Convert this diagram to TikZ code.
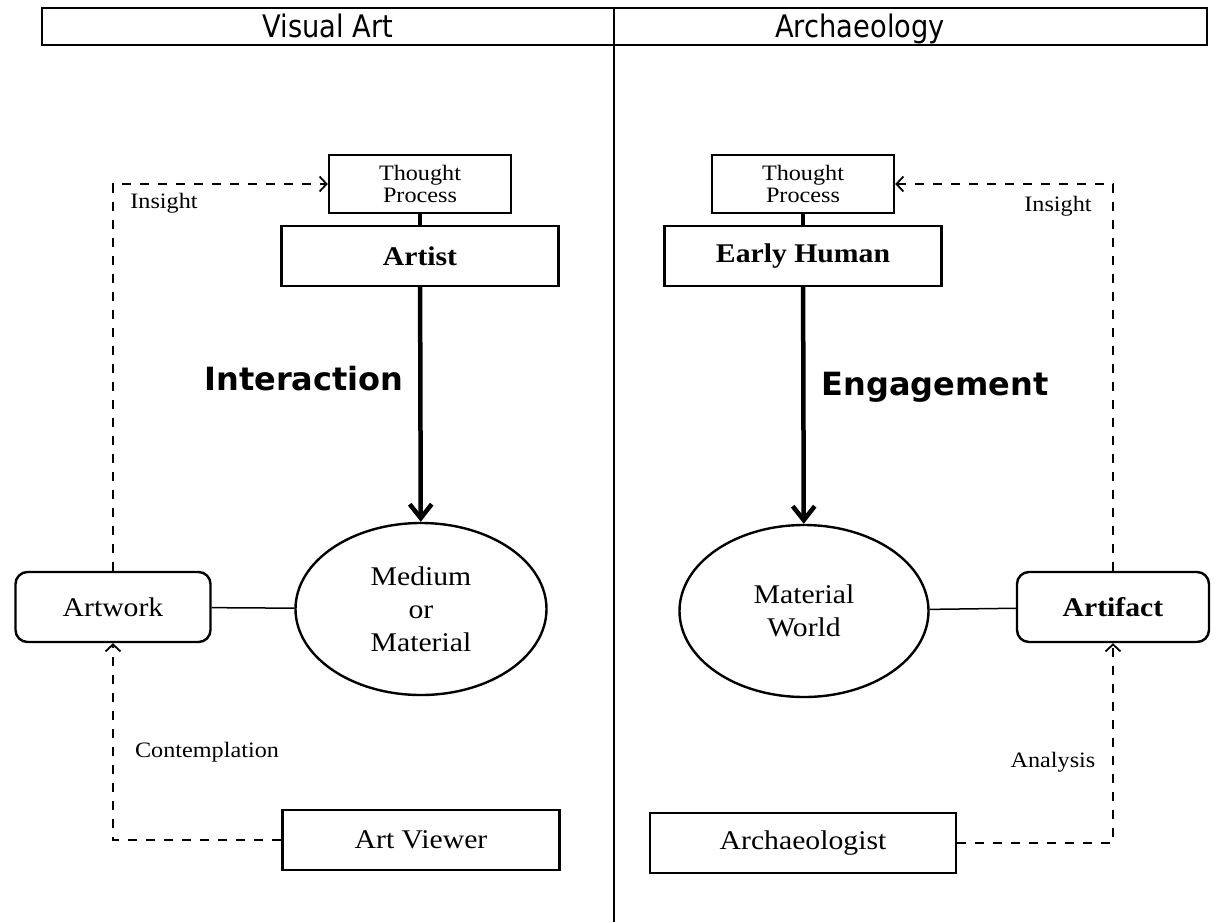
\documentclass[tikz,border=0pt]{standalone}
\usepackage{fontspec}
\setmainfont[FakeStretch=1.1]{Liberation Serif}
\newfontfamily\headfont[FakeStretch=0.88]{DejaVu Sans}
\newfontfamily\verbfont{DejaVu Sans}
\usetikzlibrary{shapes.geometric,arrows.meta}
\tikzset{
  rolebox/.style={draw, line width=2.4pt, minimum width=277pt, minimum height=60pt, inner sep=0pt, font=\fontsize{27}{30}\selectfont},
  thoughtbox/.style={draw, line width=2.4pt, minimum width=182pt, minimum height=58pt, inner sep=0pt, align=center, font=\fontsize{22}{22}\selectfont},
  thingbox/.style={draw, rounded corners=12pt, line width=2.4pt, minimum width=195pt, minimum height=70pt, inner sep=0pt, font=\fontsize{27}{30}\selectfont},
  blob/.style={draw, ellipse, line width=2.4pt, minimum width=251pt, minimum height=172pt, inner sep=0pt, align=center, font=\fontsize{27}{33}\selectfont},
  heading/.style={anchor=base, font=\headfont\fontsize{31}{32}\selectfont},
  verb/.style={font=\verbfont\bfseries\fontsize{32}{36}\selectfont},
  note/.style={font=\fontsize{22}{26}\selectfont},
  act/.style={line width=4.5pt, -{Straight Barb[length=14pt,width=22pt]}},
  link/.style={line width=1.5pt},
  loop/.style={line width=1.8pt, dash pattern=on 9pt off 9pt, -{Straight Barb[length=7pt,width=15pt]}}
}
\begin{document}
\begin{tikzpicture}[x=1pt,y=-1pt]
\useasboundingbox (0,0) rectangle (1216,922);
% heading
\draw[line width=2.6pt] (42,8) rectangle (1207,45);
\draw[line width=1.5pt] (614,8) -- (614,922);
\node[heading] (artHead) at (328,37) {Visual Art};
\node[heading] (archHead) at (860,37) {Archaeology};
% visual art side
\node[thoughtbox] (thoughtL) at (420,184) {Thought\\Process};
\node[rolebox, font=\bfseries\fontsize{27}{30}\selectfont] (artist) at (420,256) {Artist};
\node[blob] (medium) at (421,609) {Medium\\or\\Material};
\node[thingbox] (artwork) at (113,607) {Artwork};
\node[rolebox] (viewer) at (421,840) {Art Viewer};
\draw[line width=4pt] (thoughtL) -- (artist);
\draw[act] (artist) -- (medium);
\draw[link] (artwork) -- (medium);
\draw[loop] (artwork.north) |- (thoughtL.west);
\draw[loop] (viewer.west) -| (artwork.south);
\node[verb] (interact) at (304,379) {Interaction};
\node[note] (insightL) at (164,203) {Insight};
\node[note] (contemp) at (207,752) {Contemplation};
% archaeology side
\node[thoughtbox] (thoughtR) at (803,184) {Thought\\Process};
\node[rolebox, font=\bfseries\fontsize{27}{30}\selectfont] (human) at (803,256) {Early Human};
\node[blob, minimum width=249pt] (world) at (804,611) {Material\\World};
\node[thingbox, minimum width=192pt, font=\bfseries\fontsize{27}{30}\selectfont] (artifact) at (1113,607) {Artifact};
\node[rolebox, minimum width=306pt] (digger) at (803,843) {Archaeologist};
\draw[line width=4pt] (thoughtR) -- (human);
\draw[act] (human) -- (world);
\draw[link] (world) -- (artifact);
\draw[loop] (artifact.north) |- (thoughtR.east);
\draw[loop] (digger.east) -| (artifact.south);
\node[verb] (engage) at (935,387) {Engagement};
\node[note] (insightR) at (1058,206) {Insight};
\node[note] (analysis) at (1053,762) {Analysis};
\end{tikzpicture}
\end{document}
